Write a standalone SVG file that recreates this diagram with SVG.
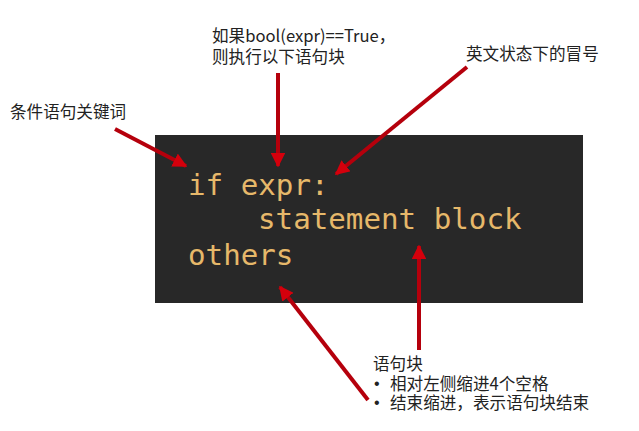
<svg xmlns="http://www.w3.org/2000/svg" width="639" height="431" viewBox="0 0 639 431">
<defs>
<style>
.lbl{font-family:"Noto Sans CJK SC","Noto Sans",sans-serif;font-size:16.6px;fill:#222;}
.bul{font-family:"Liberation Sans",sans-serif;font-size:16px;fill:#222;}
.code{font-family:"DejaVu Sans Mono",monospace;font-size:29.2px;fill:#e6b86a;}
.arr{stroke:#b5000c;stroke-width:4;fill:none;marker-end:url(#ah);}
</style>
<marker id="ah" viewBox="0 0 10 10" refX="9" refY="5" markerWidth="3.6" markerHeight="3.6" orient="auto" markerUnits="strokeWidth">
<path d="M0,0 L10,5 L0,10 z" fill="#d4000c"/>
</marker>
</defs>
<rect width="639" height="431" fill="#ffffff"/>
<g id="codebox">
<rect x="155" y="135" width="428" height="168" fill="#282828"/>
<text class="code" x="188" y="195">if expr:</text>
<text class="code" x="258" y="229">statement block</text>
<text class="code" x="188" y="265">others</text>
</g>
<g id="label-keyword"><text class="lbl" x="10" y="118">条件语句关键词</text></g>
<g id="label-cond"><text class="lbl" x="212" y="42">如果bool(expr)==True，</text><text class="lbl" x="212" y="63">则执行以下语句块</text></g>
<g id="label-colon"><text class="lbl" x="466" y="60">英文状态下的冒号</text></g>
<g id="label-block"><text class="lbl" x="373" y="370">语句块</text><text class="bul" x="374" y="389">•</text><text class="lbl" x="390" y="390">相对左侧缩进4个空格</text><text class="bul" x="374" y="408">•</text><text class="lbl" x="390" y="409">结束缩进，表示语句块结束</text></g>
<g id="connectors">
<line class="arr" x1="115" y1="129" x2="186" y2="166"/>
<line class="arr" x1="278" y1="73" x2="278" y2="166"/>
<line class="arr" x1="467" y1="67" x2="336" y2="174"/>
<line class="arr" x1="419" y1="350" x2="419" y2="246"/>
<line class="arr" x1="368" y1="400" x2="280" y2="287"/>
</g>
</svg>
